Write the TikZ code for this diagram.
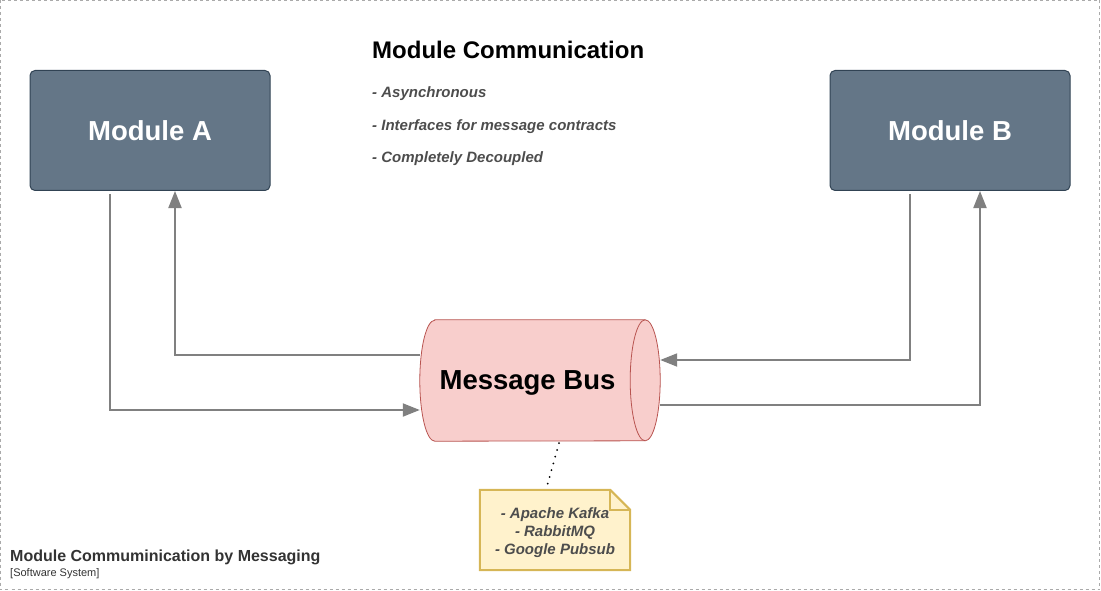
\documentclass[tikz,border=0pt]{standalone}
\usepackage{fontspec}
\setmainfont{Liberation Sans}
\usetikzlibrary{arrows.meta}
\definecolor{modfill}{HTML}{647687}
\definecolor{modline}{HTML}{314354}
\definecolor{busfill}{HTML}{F8CECC}
\definecolor{busline}{HTML}{B85450}
\definecolor{notefill}{HTML}{FFF2CC}
\definecolor{noteline}{HTML}{D6B656}
\definecolor{arrowc}{HTML}{808080}
\definecolor{txtgray}{HTML}{4D4D4D}
\definecolor{lblgray}{HTML}{333333}
\definecolor{framegray}{HTML}{AAAAAA}
\tikzset{
  module/.style={draw=modline, fill=modfill, line width=1pt, rounded corners=5pt,
    minimum width=240pt, minimum height=120pt, text=white,
    font=\fontsize{27.5}{33}\selectfont\bfseries},
  busarea/.style={minimum width=240pt, minimum height=121pt, inner sep=0pt},
  busline/.style={draw=busline, fill=busfill, line width=0.8pt},
  bustxt/.style={inner sep=0pt, font=\fontsize{27.5}{33}\selectfont\bfseries},
  flow/.style={draw=arrowc, line width=2pt, -{Triangle[length=17pt,width=13pt]}},
  bullet/.style={anchor=base west, inner sep=0pt, text=txtgray,
    font=\fontsize{15}{18}\selectfont\bfseries\itshape},
  notebox/.style={minimum width=150pt, minimum height=80pt, inner sep=0pt, align=center,
    text=txtgray, font=\fontsize{15}{18}\selectfont\bfseries\itshape},
}
\begin{document}
\begin{tikzpicture}[x=1pt,y=-1pt]
\useasboundingbox (0,0) rectangle (1101,591);
\draw[framegray, dash pattern=on 3pt off 3pt, line width=0.8pt] (0.5,0.5) rectangle (1099.5,589.5);

\node[module] (A) at (150,130.5) {Module A};
\node[module] (B) at (950,130.5) {Module B};

\node[anchor=base west, inner sep=0pt, font=\fontsize{24}{28}\selectfont\bfseries] (title) at (372,59) {Module Communication};
\node[bullet] (b1) at (372,98) {- Asynchronous};
\node[bullet] (b2) at (372,131) {- Interfaces for message contracts};
\node[bullet] (b3) at (372,163) {- Completely Decoupled};

% message bus cylinder
\node[busarea] (bus) at (540,380.5) {};
\path[busline] ([xshift=15pt]bus.north west) -- ([xshift=-15pt]bus.north east)
  arc[start angle=90, end angle=-90, x radius=15pt, y radius=60.5pt]
  -- ([xshift=15pt]bus.south west)
  arc[start angle=270, end angle=90, x radius=15pt, y radius=60.5pt] -- cycle;
\draw[draw=busline, line width=0.8pt] ([xshift=-15pt]bus.north east)
  arc[start angle=90, end angle=270, x radius=15pt, y radius=60.5pt];
\node[bustxt] (bustext) at (527.5,383) {Message Bus};

\node[notebox] (note) at (555,530) {};
\fill[notefill] (note.north west) -- ([xshift=-20pt]note.north east) -- ([yshift=-20pt]note.north east) -- (note.south east) -- (note.south west) -- cycle;
\draw[noteline, line width=2pt, line join=miter]
  (note.north west) -- ([xshift=-20pt]note.north east) -- ([yshift=-20pt]note.north east) -- (note.south east) -- (note.south west) -- cycle;
\draw[noteline, line width=2pt] ([xshift=-20pt]note.north east) -- ([xshift=-20pt,yshift=-20pt]note.north east) -- ([yshift=-20pt]note.north east);
\node[notebox, align=center] (notetext) at (555,533) {- Apache Kafka\\- RabbitMQ\\- Google Pubsub};

\draw[line width=2pt, dash pattern=on 0pt off 7pt, line cap=round] ([xshift=19pt,yshift=-2pt]bus.south) -- ([xshift=-9pt]note.north);

\draw[flow] ([xshift=-40pt,yshift=-3pt]A.south) |- ([yshift=-29.5pt]bus.west);
\draw[flow] ([yshift=25.5pt]bus.west) -| ([xshift=25pt]A.south);
\draw[flow] ([xshift=-40pt,yshift=-3pt]B.south) |- ([yshift=20.5pt]bus.east);
\draw[flow] ([yshift=-24.5pt]bus.east) -| ([xshift=30pt]B.south);

\node[anchor=base west, inner sep=0pt, text=lblgray, font=\fontsize{16}{19}\selectfont\bfseries] (lbl) at (10,561) {Module Commuminication by Messaging};
\node[anchor=base west, inner sep=0pt, text=lblgray, font=\fontsize{11}{13}\selectfont] (sub) at (10,576) {[Software System]};
\end{tikzpicture}
\end{document}
